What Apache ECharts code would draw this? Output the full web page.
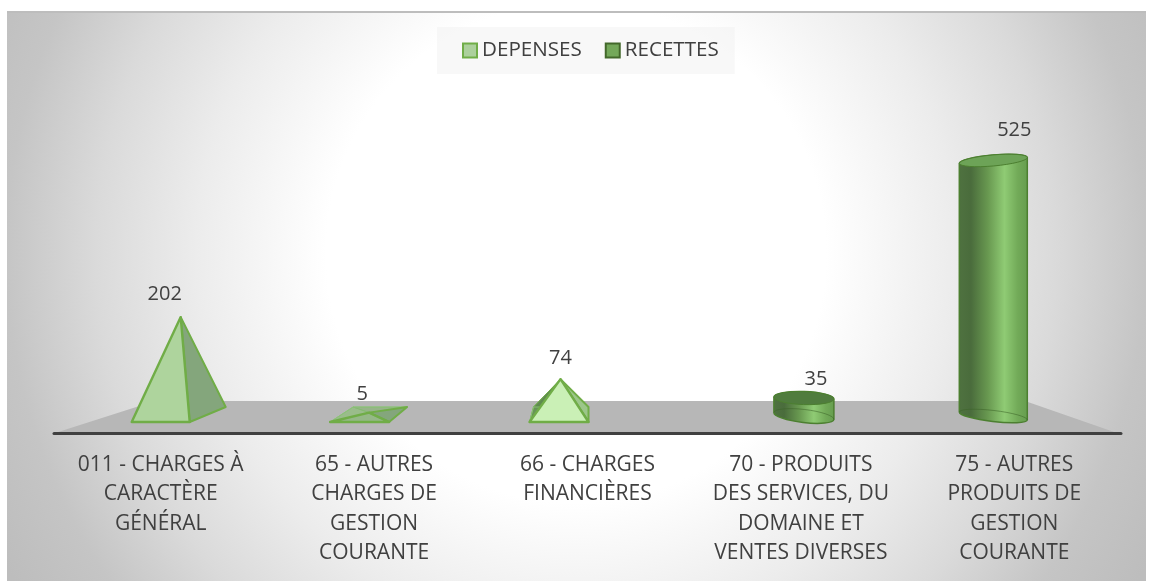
<!DOCTYPE html>
<html>
<head>
<meta charset="utf-8">
<style>
	html, body { margin: 0; padding: 0; background: #fff; }
	#frame {
		position: absolute; left: 7px; top: 11px; width: 1139px; height: 570px;
		border-top: 2px solid #bdbdbd; box-sizing: border-box;
		background: radial-gradient(circle 650px at 569px 240px, #ffffff 0px, #ffffff 250px, #ececec 380px, #dadada 480px, #c5c5c5 570px, #bdbdbd 650px);
	}
	#main { position: absolute; left: 0; top: 0; width: 1152px; height: 581px; }
</style>
<script src="https://cdn.jsdelivr.net/npm/echarts@6/dist/echarts.min.js"></script>
</head>
<body>
<div id="frame"></div>
<div id="main"></div>
<script>
	var categories = [
		"011 - CHARGES À\nCARACTÈRE\nGÉNÉRAL",
		"65 - AUTRES\nCHARGES DE\nGESTION\nCOURANTE",
		"66 - CHARGES\nFINANCIÈRES",
		"70 - PRODUITS\nDES SERVICES, DU\nDOMAINE ET\nVENTES DIVERSES",
		"75 - AUTRES\nPRODUITS DE\nGESTION\nCOURANTE"
	];
	var depenses = [202, 5, 74, null, null];
	var recettes = [null, null, null, 35, 525];

	var fontName = "'Open Sans'";
	var textColor = "#404040";

	//where each 3D mark sits relative to its category, in pixels
	var pyramidShape = {
		0: { left: -29, front: 58, backLeft: 11, backRight: 65, apex: 20, labelDx: 4, labelUp: 23 },
		1: { left: -44, front: 59, backLeft: -21, backRight: 33, apex: -5, labelDx: -12, labelUp: 18 },
		2: { left: -58, front: 59, backLeft: -54, backRight: 1, apex: -27, labelDx: -27, labelUp: 21 }
	};
	var cylinderShape = {
		3: { left: -27, width: 60, topTilt: 2, bottomTilt: 7, ry: 6.5, labelDx: 15, labelUp: 19 },
		4: { left: -55, width: 68, topTilt: -6, bottomTilt: 8, ry: 5.5, labelDx: 0, labelUp: 30 }
	};
	var baseFront = 422;
	var baseBack = 407;

	function face(points, fill, stroke, width) {
		return {
			type: "polygon",
			shape: { points: points },
			style: { fill: fill, stroke: stroke || "none", lineWidth: width || 0, lineJoin: "round" }
		};
	}

	function valueText(x, y, value) {
		return {
			type: "text",
			style: {
				x: x, y: y, text: String(value), align: "center", verticalAlign: "middle",
				fill: textColor, font: "20px " + fontName
			}
		};
	}

	function renderPyramid(params, api) {
		var i = api.value(0);
		var s = pyramidShape[i];
		var top = api.coord([i, api.value(1)]);
		var cx = top[0];
		var fl = [cx + s.left, baseFront];
		var fr = [cx + s.left + s.front, baseFront];
		var br = [cx + s.backRight, baseBack];
		var bl = [cx + s.backLeft, baseBack];
		var ap = [cx + s.apex, top[1]];
		var edge = "#70ad47";
		var light = i == 2 ? "#caf0b6" : "#aed49d";
		var side = i == 2 ? "#9cc68a" : "#84a67c";
		var inner = "rgba(140,195,120,0.9)";
		return {
			type: "group",
			children: [
				face([bl, br, ap], "rgba(150,190,130,0.45)", inner, 1),
				face([fl, bl, ap], i == 2 ? "#5f8a50" : "rgba(165,210,145,0.6)", i == 2 ? edge : inner, 1),
				face([fl, fr, br, bl], "rgba(120,170,100,0.35)", inner, 1),
				face([fr, br, ap], side, edge, 2),
				face([fl, fr, ap], i == 1 ? "rgba(140,190,120,0.55)" : light, edge, 2.4),
				valueText(cx + s.labelDx, ap[1] - s.labelUp, api.value(1))
			]
		};
	}

	function renderCylinder(params, api) {
		var i = api.value(0);
		var s = cylinderShape[i];
		var top = api.coord([i, api.value(1)]);
		var x0 = top[0] + s.left;
		var x1 = x0 + s.width;
		var rx = s.width / 2;
		var yt = top[1];
		var yb = baseFront - 6;
		var ang = Math.atan2(s.topTilt, s.width) * 180 / Math.PI;
		var angB = Math.atan2(s.bottomTilt, s.width) * 180 / Math.PI;
		var tl = yt - s.topTilt / 2, tr = yt + s.topTilt / 2;
		var bl = yb - s.bottomTilt / 2, br = yb + s.bottomTilt / 2;
		var arcTop = " A " + rx + " " + s.ry + " " + ang + " 0 ";
		var arcBottom = " A " + rx + " " + s.ry + " " + angB + " 0 ";
		var bodyFill = new echarts.graphic.LinearGradient(0, 0, 1, 0, [
			{ offset: 0, color: "#4f7240" },
			{ offset: 0.18, color: "#4a6c3c" },
			{ offset: 0.42, color: "#689850" },
			{ offset: 0.66, color: "#8fcb74" },
			{ offset: 0.85, color: "#72aa58" },
			{ offset: 1, color: "#659c4e" }
		]);
		var body = "M " + x0 + " " + tl + " L " + x0 + " " + bl + arcBottom + "0 " + x1 + " " + br + " L " + x1 + " " + tr + arcTop + "0 " + x0 + " " + tl + " Z";
		var cap = "M " + x0 + " " + tl + arcTop + "1 " + x1 + " " + tr + arcTop + "1 " + x0 + " " + tl + " Z";
		var floor = "M " + x0 + " " + bl + arcBottom + "1 " + x1 + " " + br;
		return {
			type: "group",
			children: [
				{ type: "path", shape: { pathData: body }, style: { fill: bodyFill, stroke: "#4c7f30", lineWidth: 1.5 } },
				{ type: "path", shape: { pathData: floor }, style: { fill: "none", stroke: "rgba(60,100,40,0.55)", lineWidth: 1 } },
				{ type: "path", shape: { pathData: cap }, style: { fill: i == 3 ? "#507c3e" : "#6da357", stroke: "#4c7f30", lineWidth: 1 } },
				valueText(top[0] + s.labelDx, yt - s.labelUp, api.value(1))
			]
		};
	}

	function seriesData(values) {
		var out = [];
		for (var i = 0; i < values.length; i++) {
			if (values[i] !== null) {
				out.push([i, values[i]]);
			}
		}
		return out;
	}

	var myChart = echarts.init(document.getElementById("main"));
	var option = {
		animation: false,
		legend: {
			left: 437,
			top: 27,
			padding: [13, 16, 13, 25],
			itemGap: 23,
			itemWidth: 14,
			itemHeight: 14,
			backgroundColor: "rgba(240,240,240,0.45)",
			textStyle: { color: textColor, fontSize: 20.6, fontFamily: fontName },
			data: [
				{ name: "DEPENSES", icon: "rect", itemStyle: { color: "#acd09c", borderColor: "#70ad47", borderWidth: 2 } },
				{ name: "RECETTES", icon: "rect", itemStyle: { color: "#74a85a", borderColor: "#43682b", borderWidth: 2 } }
			]
		},
		graphic: [{
			type: "polygon",
			z: 0,
			shape: { points: [[55, 433], [155, 401], [1025, 401], [1117, 433]] },
			style: { fill: "#b7b7b7" }
		}],
		grid: { left: 54, right: 31, top: 142, bottom: 148 },
		xAxis: {
			type: "category",
			data: categories,
			axisLine: { show: true, onZero: false, lineStyle: { color: "#404040", width: 3 } },
			axisTick: { show: false },
			axisLabel: {
				interval: 0,
				margin: 17,
				color: textColor,
				fontSize: 21,
				fontFamily: fontName,
				lineHeight: 29.5
			},
			splitLine: { show: false }
		},
		yAxis: {
			type: "value",
			min: -37,
			max: 563,
			show: false,
			splitLine: { show: false }
		},
		series: [
			{ name: "DEPENSES", type: "custom", renderItem: renderPyramid, data: seriesData(depenses), encode: { x: 0, y: 1 }, z: 3, clip: false },
			{ name: "RECETTES", type: "custom", renderItem: renderCylinder, data: seriesData(recettes), encode: { x: 0, y: 1 }, z: 3, clip: false }
		]
	};
	myChart.setOption(option);
</script>
</body>
</html>
